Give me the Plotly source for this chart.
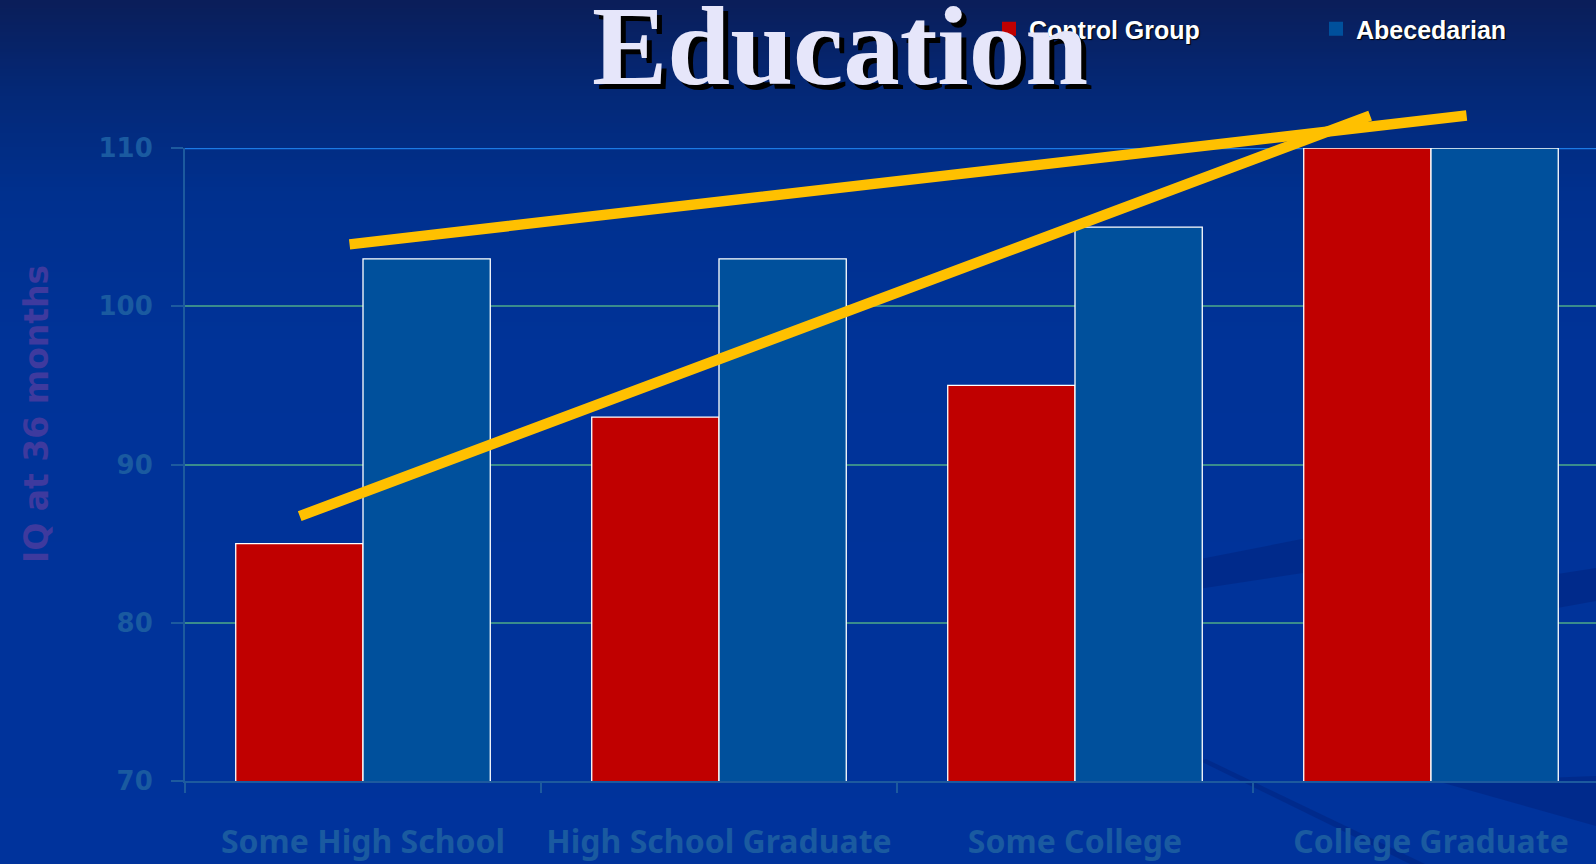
import base64
import struct
import zlib

import plotly.graph_objects as go

# ---- data -------------------------------------------------------------
categories = ["Some High School", "High School Graduate", "Some College", "College Graduate"]
control_group = [85, 93, 95, 110]
abecedarian = [103, 103, 105, 110]
y_ticks = [70, 80, 90, 100, 110]

# hand-drawn trend strokes, in (category index, IQ) units: [start, end]
trend_upper_x = [-0.042, 3.100]
trend_upper_y = [103.9, 112.05]
trend_lower_x = [-0.182, 2.829]
trend_lower_y = [86.7, 112.05]

# ---- canvas geometry --------------------------------------------------
W, H = 1596, 864
ML, MR, MT, MB = 185, 0, 148, 83
PW, PH = W - ML - MR, H - MT - MB
CAT_PX = 356  # pixel width of one category slot


def px_to_paper_x(px):
    return (px - ML) / PW


def px_to_paper_y(py):
    return (H - MB - py) / PH


# ---- vertical background gradient as an inline PNG ---------------------
def gradient_png(stops, height=256):
    rows = []
    for i in range(height):
        t = i / (height - 1)
        for (t0, c0), (t1, c1) in zip(stops, stops[1:]):
            if t0 <= t <= t1:
                f = (t - t0) / (t1 - t0) if t1 > t0 else 0
                rgb = [round(a + (b - a) * f) for a, b in zip(c0, c1)]
                break
        rows.append(b"\x00" + bytes(rgb))
    raw = b"".join(rows)

    def chunk(tag, data):
        c = struct.pack(">I", len(data)) + tag + data
        return c + struct.pack(">I", zlib.crc32(tag + data) & 0xFFFFFFFF)

    png = b"\x89PNG\r\n\x1a\n"
    png += chunk(b"IHDR", struct.pack(">IIBBBBB", 1, height, 8, 2, 0, 0, 0))
    png += chunk(b"IDAT", zlib.compress(raw, 9))
    png += chunk(b"IEND", b"")
    return "data:image/png;base64," + base64.b64encode(png).decode()


bg_stops = [
    (0.00, (10, 30, 90)),
    (0.10, (4, 40, 118)),
    (0.22, (0, 48, 142)),
    (0.40, (0, 51, 152)),
    (1.00, (0, 51, 156)),
]

# faint darker swooshes of the slide backdrop (pixel polygons)
backdrop_swooshes = [
    [(1185, 562), (1440, 512), (1440, 552), (1185, 591)],
    [(1480, 586), (1596, 568), (1596, 601), (1480, 622)],
    [(1200, 761), (1206, 759), (1425, 864), (1410, 864)],
    [(1440, 782), (1596, 776), (1596, 826)],
]


def swoosh_path(points):
    pts = [f"{px_to_paper_x(x):.5f},{px_to_paper_y(y):.5f}" for x, y in points]
    return "M" + " L".join(pts) + " Z"


RED = "#C00000"
BLUE = "#00509C"
GOLD = "#FFC000"
AXIS = "#1D5A9E"
LABEL = "#1A5AA0"

fig = go.Figure()
fig.add_trace(go.Bar(
    x=categories, y=control_group, name="Control Group", showlegend=False,
    marker=dict(color=RED, line=dict(color="white", width=1.3)),
    hoverinfo="skip",
))
fig.add_trace(go.Bar(
    x=categories, y=abecedarian, name="Abecedarian", showlegend=False,
    marker=dict(color=BLUE, line=dict(color="white", width=1.3)),
    hoverinfo="skip",
))

# legend keys: solid squares, each in its own legend box
for name, color, legend_id in (("Control Group", RED, "legend"), ("Abecedarian", BLUE, "legend2")):
    fig.add_trace(go.Scatter(
        x=[None], y=[None], mode="markers", name=name, legend=legend_id,
        marker=dict(symbol="square", size=14, color=color, line=dict(width=0)),
        showlegend=True, hoverinfo="skip",
    ))

for pts in backdrop_swooshes:
    fig.add_shape(type="path", xref="paper", yref="paper", path=swoosh_path(pts),
                  fillcolor="rgba(0,22,100,0.28)", line=dict(width=0), layer="below")

# bright rule along the top of the value range
fig.add_shape(type="line", xref="paper", yref="y", x0=0, x1=1, y0=110, y1=110,
              line=dict(color="#1C7AE6", width=2.5), layer="below")

# gold trend strokes
for xs, ys in ((trend_upper_x, trend_upper_y), (trend_lower_x, trend_lower_y)):
    fig.add_annotation(
        x=xs[1], y=ys[1], ax=xs[0], ay=ys[0], xref="x", yref="y", axref="x", ayref="y",
        text="", showarrow=True, arrowhead=0, arrowwidth=10.5, arrowcolor=GOLD,
        standoff=0, startstandoff=0,
    )

# value axis title
fig.add_annotation(
    text="IQ at 36 months", xref="paper", yref="paper",
    x=px_to_paper_x(36), y=px_to_paper_y(414), xanchor="center", yanchor="middle",
    textangle=-90, showarrow=False,
    font=dict(family="DejaVu Sans", size=33, weight="bold", color="#3E3A9E"),
)

legend_common = dict(
    orientation="h", xref="paper", yref="container", yanchor="top", xanchor="left",
    y=1 - 6 / H, itemsizing="trace", itemwidth=30,
    bgcolor="rgba(0,0,0,0)", borderwidth=0,
    font=dict(family="Liberation Sans", size=25, color="white", weight="bold",
              shadow="1px 1px 1px #000000"),
)

n_visible = PW / CAT_PX
fig.update_layout(
    width=W, height=H,
    margin=dict(l=ML, r=MR, t=MT, b=MB, pad=0, autoexpand=False),
    paper_bgcolor="#003399",
    plot_bgcolor="rgba(0,0,0,0)",
    title=dict(
        text="Education", xref="container", yref="container",
        x=840 / W, y=1 - 44 / H, xanchor="center", yanchor="middle",
        font=dict(family="Liberation Serif", size=113, weight="bold", color="#E6E6FA",
                  shadow="5px 5px 0px #000000"),
    ),
    barmode="group", bargap=0.285, bargroupgap=0,
    images=[dict(
        source=gradient_png(bg_stops), xref="paper", yref="paper",
        x=px_to_paper_x(0), y=px_to_paper_y(0), sizex=W / PW, sizey=H / PH,
        xanchor="left", yanchor="top", sizing="stretch", layer="below",
    )],
    legend=dict(legend_common, x=px_to_paper_x(989)),
    legend2=dict(legend_common, x=px_to_paper_x(1316)),
    xaxis=dict(
        type="category", range=[-0.5, -0.5 + n_visible],
        showline=True, linecolor=AXIS, linewidth=2, automargin=False,
        ticks="outside", tickson="boundaries", ticklen=10, tickcolor=AXIS, tickwidth=2,
        showgrid=False, ticklabelstandoff=32, tickangle=0,
        tickfont=dict(family="Noto Sans", size=32, weight="bold", color=LABEL),
    ),
    yaxis=dict(
        range=[70, 110], tickvals=y_ticks, automargin=False,
        showline=True, linecolor=AXIS, linewidth=2,
        ticks="outside", ticklen=12, tickcolor=AXIS, tickwidth=2,
        showgrid=True, gridcolor="#3A8C8C", gridwidth=2, zeroline=False,
        ticklabelstandoff=13,
        tickfont=dict(family="DejaVu Sans", size=26, weight="bold", color=LABEL),
    ),
)

fig.write_html("out.html")
